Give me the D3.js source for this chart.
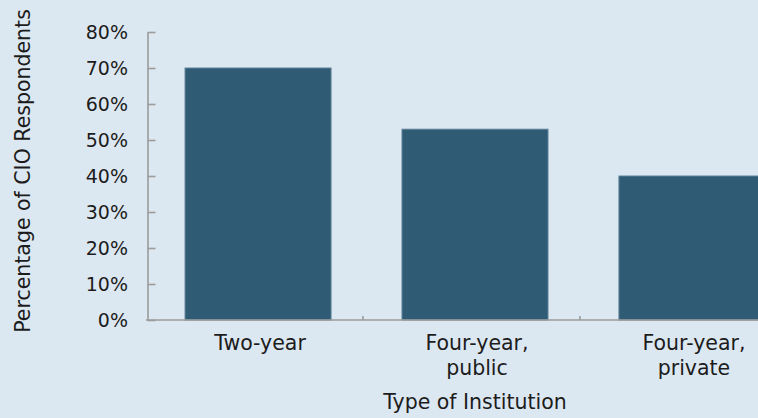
<!DOCTYPE html>
<html>
<head>
<meta charset="utf-8">
<script src="https://cdn.jsdelivr.net/npm/d3@7/dist/d3.min.js"></script>
<style>
  html, body { margin: 0; padding: 0; background: #dce8f1; }
  svg { display: block; }
  text { font-family: "DejaVu Sans", sans-serif; fill: #1c1c1c; }
</style>
</head>
<body>
<svg id="chart" width="758" height="418"></svg>
<script>
// Share of CIO respondents by institution type
const categories = ["Two-year", "Four-year, public", "Four-year, private"];
const categoryLines = [["Two-year"], ["Four-year,", "public"], ["Four-year,", "private"]];
const values = [70, 53, 40];
const yTicks = [0, 10, 20, 30, 40, 50, 60, 70, 80];
const yTitle = "Percentage of CIO Respondents";
const xTitle = "Type of Institution";

const svg = d3.select("#chart");
const W = 758, H = 418;
svg.append("rect").attr("width", W).attr("height", H).attr("fill", "#dce8f1");

const plotLeft = 146, plotRight = 804, plotTop = 32, plotBottom = 320;

const x = d3.scaleBand()
  .domain(categories)
  .range([plotLeft, plotRight])
  .paddingInner(0.327)
  .paddingOuter(0.18);

const y = d3.scaleLinear().domain([0, 80]).range([plotBottom, plotTop]);

const axisColor = "#9c9c9c";

// Bars
svg.append("g").selectAll("rect")
  .data(categories)
  .join("rect")
  .attr("x", d => x(d))
  .attr("y", (d, i) => y(values[i]))
  .attr("width", x.bandwidth())
  .attr("height", (d, i) => y(0) - y(values[i]))
  .attr("fill", "#2f5b75")
  .attr("stroke", "#5f8198")
  .attr("stroke-width", 1);

// Y axis (ticks pointing into the plot)
const yAxis = d3.axisLeft(y)
  .tickValues(yTicks)
  .tickFormat(d => d + "%")
  .tickSizeInner(-8)
  .tickSizeOuter(0)
  .tickPadding(19.5);

const gy = svg.append("g")
  .attr("transform", `translate(${plotLeft + 1.5},0)`)
  .call(yAxis);
gy.select(".domain").attr("stroke", axisColor).attr("stroke-width", 1.6);
gy.selectAll(".tick line").attr("stroke", axisColor).attr("stroke-width", 1.6);
gy.selectAll(".tick text")
  .attr("font-size", 19)
  .attr("font-family", "DejaVu Sans, sans-serif")
  .attr("fill", "#1c1c1c");

// X axis line with category boundary ticks
const step = x.step();
const boundaries = d3.range(1, categories.length).map(i => plotLeft + i * step);
const gx = svg.append("g");
gx.append("line")
  .attr("x1", plotLeft).attr("x2", W)
  .attr("y1", plotBottom).attr("y2", plotBottom)
  .attr("stroke", axisColor).attr("stroke-width", 1.6);
gx.selectAll("line.tick")
  .data(boundaries)
  .join("line")
  .attr("class", "tick")
  .attr("x1", d => d).attr("x2", d => d)
  .attr("y1", plotBottom).attr("y2", plotBottom - 4)
  .attr("stroke", axisColor).attr("stroke-width", 1.6);

// Category labels
const labels = svg.append("g").selectAll("text")
  .data(categories)
  .join("text")
  .attr("text-anchor", "middle")
  .attr("font-size", 20.5)
  .attr("transform", d => `translate(${x(d) + x.bandwidth() / 2 + 2},350)`);
labels.selectAll("tspan")
  .data((d, i) => categoryLines[i])
  .join("tspan")
  .attr("x", 0)
  .attr("y", (d, j) => j * 25)
  .text(d => d);

// Axis titles
svg.append("text")
  .attr("text-anchor", "middle")
  .attr("font-size", 20.5)
  .attr("x", (plotLeft + plotRight) / 2)
  .attr("y", 409)
  .text(xTitle);

svg.append("text")
  .attr("text-anchor", "middle")
  .attr("font-size", 20.5)
  .attr("transform", "translate(30,171) rotate(-90)")
  .text(yTitle);
</script>
</body>
</html>
